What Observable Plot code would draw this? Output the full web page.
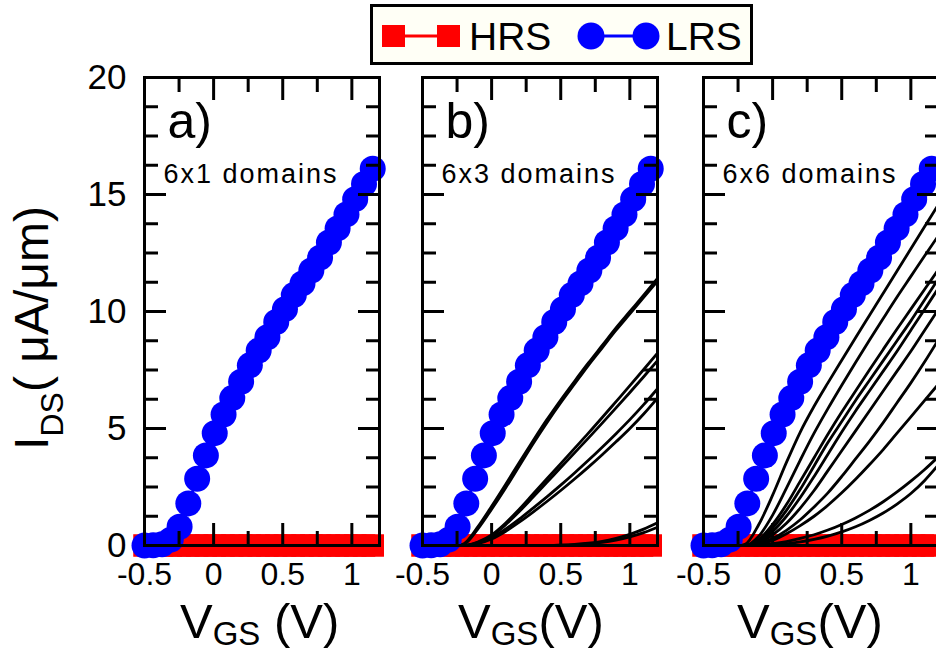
<!DOCTYPE html>
<html>
<head>
<meta charset="utf-8">
<script src="https://cdn.jsdelivr.net/npm/d3@7"></script>
<script src="https://cdn.jsdelivr.net/npm/@observablehq/plot@0.6"></script>
<style>
  html, body { margin: 0; padding: 0; background: #fff; }
  #root { position: relative; width: 936px; height: 653px; overflow: hidden; background: #fff;
          font-family: "Liberation Sans", Arial, Helvetica, sans-serif; color: #000; }
  .xtitle { position: absolute; font-size: 49px; line-height: 1; white-space: nowrap; }
  .xtitle .sub { font-size: 33px; position: relative; top: 7px; }
  .ytitle { position: absolute; font-size: 48px; line-height: 1; white-space: nowrap;
            transform: translate(-50%, -50%) rotate(-90deg); }
  .ytitle .sub { font-size: 32px; position: relative; top: 15px; }
  #legend { position: absolute; left: 370px; top: 4px; width: 377px; height: 55px;
            border: 3px solid #000; background: #fffff6; }
</style>
</head>
<body>
<div id="root"></div>
<script>
// ---------- data ----------
// gate voltage sweep (V) used for HRS / LRS symbols
const vgs = [-0.5, -0.437, -0.373, -0.31, -0.246, -0.183, -0.119, -0.056, 0.008, 0.072,
             0.135, 0.199, 0.262, 0.326, 0.389, 0.453, 0.516, 0.58, 0.643, 0.707,
             0.77, 0.834, 0.897, 0.961, 1.024, 1.088, 1.151];
// LRS current (uA/um)
const lrsCurrent = [0, 0.01, 0.05, 0.25, 0.8, 1.8, 2.85, 3.85, 4.8, 5.6,
                    6.3, 7.0, 7.7, 8.33, 8.9, 9.55, 10.1, 10.7, 11.2, 11.75,
                    12.3, 12.95, 13.55, 14.15, 14.8, 15.45, 16.1];
// HRS current (uA/um)
const hrsCurrent = [0, 0, 0, 0, 0, 0, 0, 0, 0, 0,
                    0, 0, 0, 0, 0, 0, 0, 0, 0, 0,
                    0, 0, 0, 0, 0, 0, 0];
// gate voltage grid for the individual domain-configuration curves
const curveVgs = [-0.25, -0.2, -0.1, 0, 0.1, 0.2, 0.3, 0.4, 0.5, 0.6, 0.7, 0.8, 0.9, 1.0, 1.1, 1.2];
// panel b: 6x3 domains
const panelBCurves = [
  [0, 0.05, 0.7, 1.55, 2.45, 3.4, 4.35, 5.25, 6.1, 6.9, 7.7, 8.45, 9.2, 9.9, 10.6, 11.3],
  [0, 0.08, 0.8, 1.68, 2.6, 3.55, 4.48, 5.38, 6.22, 7.02, 7.8, 8.55, 9.3, 10.0, 10.7, 11.42],
  [0, 0, 0.15, 0.45, 0.95, 1.55, 2.2, 2.85, 3.5, 4.15, 4.8, 5.47, 6.15, 6.83, 7.52, 8.22],
  [0, 0, 0.13, 0.4, 0.88, 1.45, 2.07, 2.7, 3.33, 3.96, 4.59, 5.23, 5.88, 6.54, 7.21, 7.9],
  [0, 0, 0.1, 0.33, 0.7, 1.13, 1.6, 2.08, 2.58, 3.1, 3.64, 4.2, 4.78, 5.38, 6.02, 6.7],
  [0, 0, 0.08, 0.28, 0.6, 1.0, 1.43, 1.88, 2.35, 2.84, 3.35, 3.88, 4.43, 5.0, 5.62, 6.3],
  [0, 0, 0, 0, 0, 0, 0, 0.005, 0.02, 0.05, 0.1, 0.18, 0.31, 0.48, 0.7, 0.97],
  [0, 0, 0, 0, 0, 0, 0, 0, 0.01, 0.03, 0.07, 0.13, 0.23, 0.37, 0.55, 0.78]
];
// panel c: 6x6 domains
const panelCCurves = [
  [0, 0.05, 0.9, 2.15, 3.55, 4.85, 5.95, 6.95, 7.92, 8.88, 9.83, 10.78, 11.73, 12.68, 13.63, 14.58],
  [0, 0, 0.4, 1.3, 2.45, 3.65, 4.8, 5.85, 6.85, 7.82, 8.77, 9.7, 10.62, 11.5, 12.38, 13.25],
  [0, 0, 0.25, 0.9, 1.75, 2.75, 3.75, 4.75, 5.7, 6.6, 7.5, 8.38, 9.25, 10.1, 10.95, 11.8],
  [0, 0, 0.2, 0.75, 1.5, 2.4, 3.4, 4.4, 5.3, 6.2, 7.05, 7.9, 8.75, 9.6, 10.5, 11.4],
  [0, 0, 0.15, 0.6, 1.25, 2.05, 2.95, 3.9, 4.85, 5.75, 6.6, 7.45, 8.3, 9.2, 10.1, 11.0],
  [0, 0, 0.1, 0.45, 0.95, 1.6, 2.35, 3.2, 4.05, 4.9, 5.75, 6.6, 7.45, 8.3, 9.2, 10.1],
  [0, 0, 0.07, 0.3, 0.65, 1.1, 1.65, 2.25, 2.95, 3.7, 4.45, 5.25, 6.1, 6.95, 7.85, 8.8],
  [0, 0, 0.05, 0.22, 0.5, 0.85, 1.25, 1.72, 2.25, 2.83, 3.45, 4.1, 4.8, 5.5, 6.2, 6.9],
  [0, 0, 0.02, 0.08, 0.17, 0.3, 0.46, 0.66, 0.9, 1.18, 1.5, 1.87, 2.29, 2.75, 3.25, 3.8],
  [0, 0, 0, 0.02, 0.07, 0.15, 0.26, 0.4, 0.58, 0.8, 1.07, 1.39, 1.77, 2.22, 2.78, 3.45]
];
const panelTags = ["a)", "b)", "c)"];
const panelNotes = ["6x1 domains", "6x3 domains", "6x6 domains"];
const xTickLabels = [-0.5, 0, 0.5, 1];
const xMajorTicks = [-0.5, 0, 0.5, 1];
const xMinorTicks = [-0.25, 0.25, 0.75];
const yTickLabels = [0, 5, 10, 15, 20];
const yMajorTicks = [5, 10, 15];
const yMinorTicks = [1.25, 2.5, 3.75, 6.25, 7.5, 8.75, 11.25, 12.5, 13.75, 16.25, 17.5, 18.75];
const seriesNames = ["HRS", "LRS"];
const seriesColors = ["#ff0000", "#0000ff"];
const xDomain = [-0.5, 1.2];
const yDomain = [0, 20];

// ---------- layout ----------
const root = document.getElementById("root");
const layout = [
  {left: 0, ml: 144},
  {left: 382, ml: 40},
  {left: 663, ml: 40}
];
const panelCurves = [[], panelBCurves, panelCCurves];
const FW = 235, MR = 30;

const lrsRows = vgs.map((v, j) => ({v, i: lrsCurrent[j]}));
const hrsRows = vgs.map((v, j) => ({v, i: hrsCurrent[j]}));

panelTags.forEach((tag, k) => {
  const {left, ml} = layout[k];
  const curveRows = panelCurves[k].flatMap((c, ci) => curveVgs.map((v, j) => ({v, i: c[j], id: ci})));
  const tickOpts = {fill: "none", strokeWidth: 3, label: null, stroke: "#000"};
  const marks = [
    Plot.line(hrsRows, {x: "v", y: "i", stroke: seriesColors[0], strokeWidth: 3}),
    Plot.dot(hrsRows, {x: "v", y: "i", symbol: "square", r: 12.7, fill: seriesColors[0], stroke: "none"}),
    Plot.line(curveRows, {x: "v", y: "i", z: "id", stroke: "#000", strokeWidth: 2.8, curve: "monotone-x"}),
    Plot.line(lrsRows, {x: "v", y: "i", stroke: seriesColors[1], strokeWidth: 3}),
    Plot.dot(lrsRows, {x: "v", y: "i", r: 13, fill: seriesColors[1], stroke: "none"}),
    Plot.frame({stroke: "#000", strokeWidth: 3}),
    Plot.axisY(yMajorTicks, {anchor: "left", tickSize: 22, dx: 22, ...tickOpts}),
    Plot.axisY(yMinorTicks, {anchor: "left", tickSize: 14, dx: 14, ...tickOpts}),
    Plot.axisY(yMajorTicks, {anchor: "right", tickSize: 22, dx: -22, ...tickOpts}),
    Plot.axisY(yMinorTicks, {anchor: "right", tickSize: 14, dx: -14, ...tickOpts}),
    Plot.axisX(xMajorTicks, {anchor: "bottom", tickSize: 22, dy: -22, ...tickOpts}),
    Plot.axisX(xMinorTicks, {anchor: "bottom", tickSize: 14, dy: -14, ...tickOpts}),
    Plot.axisX(xMajorTicks, {anchor: "top", tickSize: 22, dy: 22, ...tickOpts}),
    Plot.axisX(xMinorTicks, {anchor: "top", tickSize: 14, dy: 14, ...tickOpts}),
    Plot.axisX(xTickLabels, {anchor: "bottom", tickSize: 0, tickPadding: 17, fontSize: 32,
                             tickFormat: d => String(d), label: null, fill: "#000"}),
    Plot.text([tag], {x: null, y: null, text: d => d, frameAnchor: "top-left", dx: 23, dy: 60,
                      fontSize: 50, textAnchor: "start", lineAnchor: "bottom"}),
    Plot.text([panelNotes[k]], {x: null, y: null, text: d => d, frameAnchor: "top-left", dx: 19, dy: 105,
                      fontSize: 27, textAnchor: "start", lineAnchor: "bottom"})
  ];
  if (k === 0) {
    marks.push(Plot.axisY(yTickLabels, {anchor: "left", tickSize: 0, tickPadding: 18, fontSize: 35,
                                        tickFormat: d => String(d), label: null, fill: "#000"}));
  }
  const svg = Plot.plot({
    width: ml + FW + MR,
    height: 653,
    marginTop: 77,
    marginBottom: 108,
    marginLeft: ml,
    marginRight: MR,
    x: {domain: xDomain, axis: null},
    y: {domain: yDomain, axis: null},
    style: {background: "transparent", overflow: "visible", maxWidth: "none",
            fontFamily: "'Liberation Sans', Arial, Helvetica, sans-serif", color: "#000"},
    marks
  });
  svg.style.position = "absolute";
  svg.style.left = left + "px";
  svg.style.top = "0px";
  svg.querySelectorAll("text").forEach(t => {
    if (t.textContent.includes("domains")) t.setAttribute("letter-spacing", "2");
  });
  root.appendChild(svg);
});

// ---------- axis titles ----------
const xTitleLefts = [180, 458, 737];
xTitleLefts.forEach((x, k) => {
  const d = document.createElement("div");
  d.className = "xtitle";
  d.style.left = x + "px";
  d.style.top = "597px";
  d.innerHTML = k === 0 ? 'V<span class="sub">GS</span> (V)' : 'V<span class="sub">GS</span>(V)';
  root.appendChild(d);
});
const yt = document.createElement("div");
yt.className = "ytitle";
yt.style.left = "32px";
yt.style.top = "328px";
yt.innerHTML = 'I<span class="sub">DS</span>( μA/μm)';
root.appendChild(yt);

// ---------- legend ----------
const legend = document.createElement("div");
legend.id = "legend";
legend.innerHTML = `
<svg width="377" height="55" style="display:block;font-family:'Liberation Sans', Arial, sans-serif">
  <line x1="20" x2="75" y1="29" y2="29" stroke="${seriesColors[0]}" stroke-width="3"/>
  <rect x="9" y="18" width="23" height="22" fill="${seriesColors[0]}"/>
  <rect x="64" y="18" width="23" height="22" fill="${seriesColors[0]}"/>
  <text x="96" y="43" font-size="39">${seriesNames[0]}</text>
  <line x1="218" x2="273" y1="29" y2="29" stroke="${seriesColors[1]}" stroke-width="3"/>
  <circle cx="218" cy="29" r="13.5" fill="${seriesColors[1]}"/>
  <circle cx="273" cy="29" r="13.5" fill="${seriesColors[1]}"/>
  <text x="293" y="43" font-size="39">${seriesNames[1]}</text>
</svg>`;
root.appendChild(legend);
</script>
</body>
</html>
